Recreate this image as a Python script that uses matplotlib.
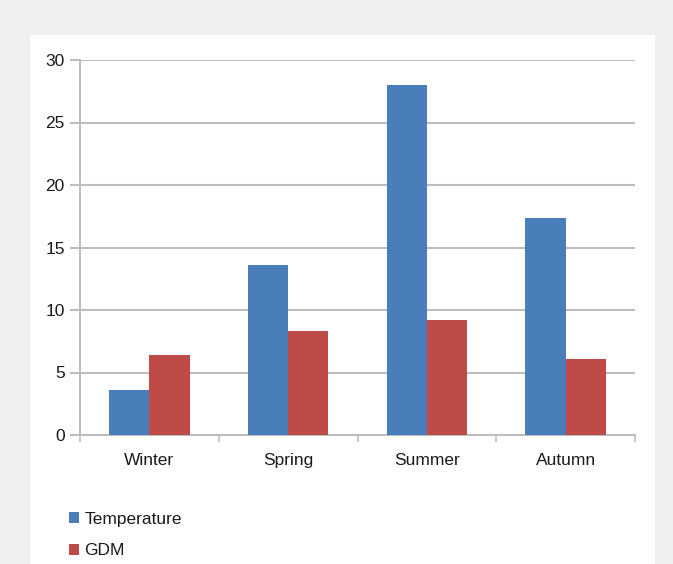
import numpy as np
import matplotlib.pyplot as plt
from matplotlib.patches import Rectangle

plt.rcParams['font.family'] = ['Liberation Sans', 'DejaVu Sans']

seasons = ["Winter", "Spring", "Summer", "Autumn"]
temperature = [3.6, 13.6, 28.0, 17.4]
gdm = [6.4, 8.3, 9.2, 6.1]
yticks = [0, 5, 10, 15, 20, 25, 30]

W, H = 673, 564
fig = plt.figure(figsize=(W / 100, H / 100), dpi=100)
fig.patch.set_facecolor("#efefef")
# white card behind the chart
fig.patches.append(Rectangle((30 / W, 0), (655 - 30) / W, 1 - 35 / H,
                             transform=fig.transFigure, facecolor="white",
                             edgecolor="none", zorder=-5))

ax = fig.add_axes([80 / W, 1 - 435 / H, (635 - 80) / W, (435 - 60) / H])
ax.set_zorder(2)
ax.set_facecolor("none")

x = np.arange(len(seasons))
bw = 0.29
ax.bar(x - bw / 2, temperature, bw, color="#4a7ebb", label="Temperature", zorder=3)
ax.bar(x + bw / 2, gdm, bw, color="#be4b48", label="GDM", zorder=3)

ax.set_xlim(-0.5, len(seasons) - 0.5)
ax.set_ylim(0, 30)
ax.set_yticks(yticks)
ax.yaxis.grid(True, color="#bdbdbd", linewidth=1.5, zorder=0)
ax.set_axisbelow(True)

ax.set_xticks(x)
ax.set_xticklabels(seasons, fontsize=12.5, color="#1a1a1a")
ax.set_xticks(np.arange(-0.5, len(seasons)), minor=True)
ax.tick_params(axis="x", which="major", length=0, pad=13)
ax.tick_params(axis="x", which="minor", length=5, color="#bdbdbd", width=1.2)
ax.tick_params(axis="y", length=7, color="#bdbdbd", width=1.5, labelsize=12.5,
               labelcolor="#1a1a1a", pad=4)

for s in ["top", "right"]:
    ax.spines[s].set_visible(False)
for s in ["left", "bottom"]:
    ax.spines[s].set_color("#bdbdbd")
    ax.spines[s].set_linewidth(1.5)

fig.legend(loc="upper left", bbox_to_anchor=(62 / W, 1 - 505 / H), frameon=False,
           fontsize=12.5, handlelength=0.6, handleheight=0.6, handletextpad=0.3,
           labelspacing=0.95, borderaxespad=0, labelcolor="#1a1a1a")

fig.savefig("out.png", dpi=100, facecolor=fig.get_facecolor())
